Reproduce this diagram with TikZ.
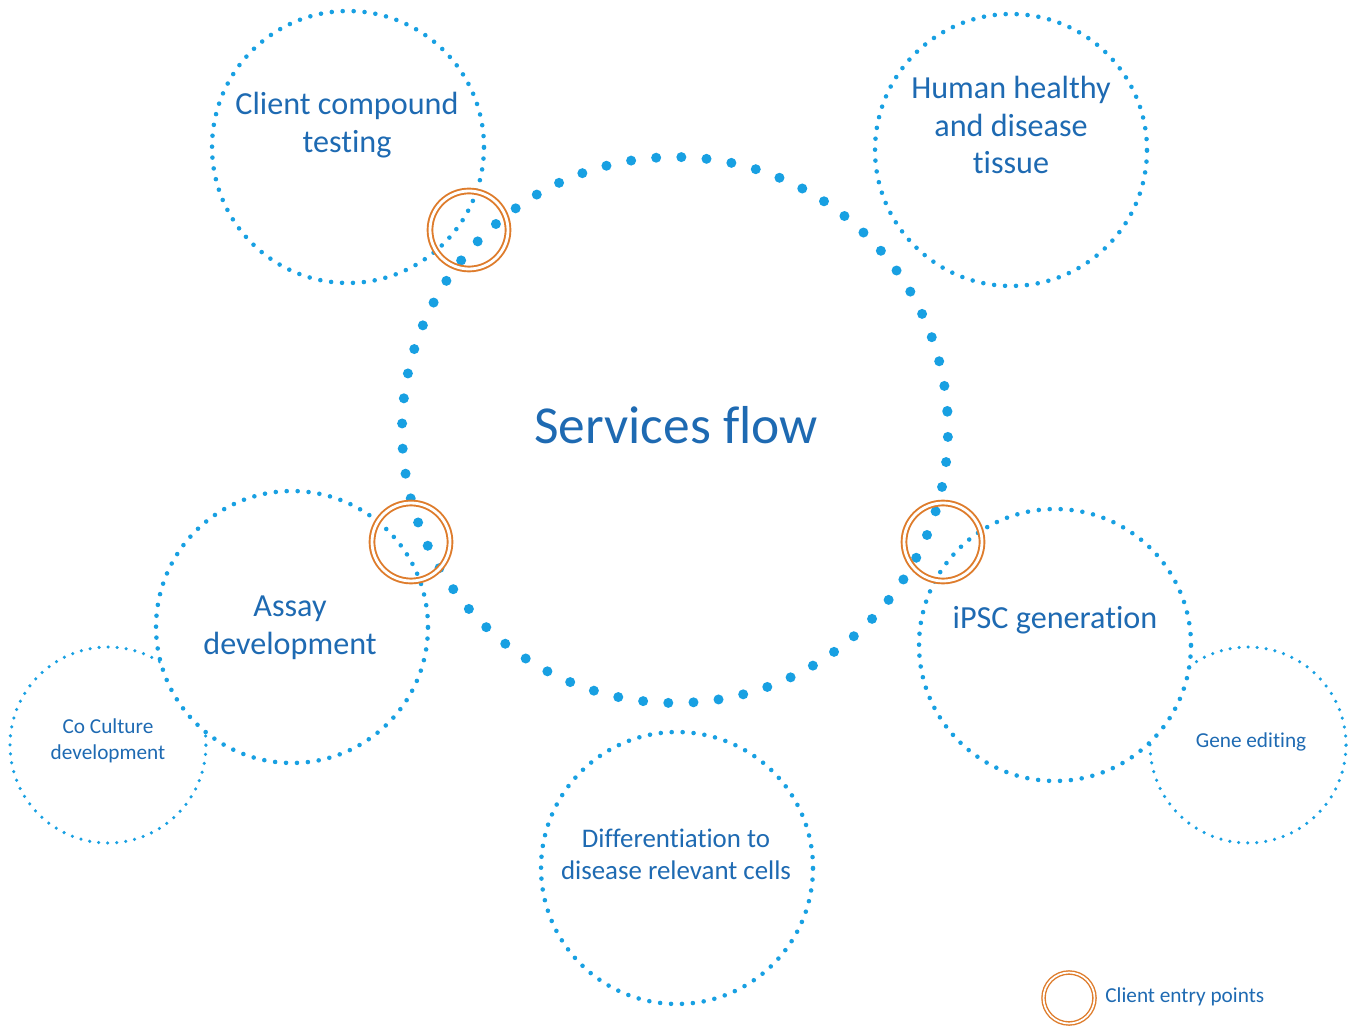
\documentclass[tikz,border=0pt]{standalone}
\usepackage{fontspec}
\setmainfont{Carlito}[Ligatures=NoCommon]
\usepackage{tikz}

\definecolor{dotblue}{RGB}{24,160,226}
\definecolor{textblue}{RGB}{30,106,178}
\definecolor{entryorange}{RGB}{222,124,44}

\begin{document}
\begin{tikzpicture}
        [x=0.02cm, y=-0.02cm,
        bigring/.style={circle, draw=dotblue, inner sep=0pt, line width=5.7pt,
           line cap=round, dash pattern=on 0pt off 14.35pt, minimum size=10.92cm},
        midring/.style={circle, draw=dotblue, inner sep=0pt, line width=2.6pt,
           line cap=round, dash pattern=on 0pt off 6.23pt, minimum size=5.44cm},
        smallring/.style={circle, draw=dotblue, inner sep=0pt, line width=2pt,
           line cap=round, dash pattern=on 0pt off 5.15pt, minimum size=3.92cm},
        entry/.style={circle, draw=entryorange, double=white, double distance=1.6pt,
           line width=1.1pt, inner sep=0pt, minimum size=1.56cm},
        lbl/.style={text=textblue, align=center, inner sep=0pt}]
        \useasboundingbox (0,0) rectangle (1351,1026);
        % outer satellite rings
        \node (coring) at (108, 745) [smallring] {};
        \node (genering) at (1248, 745) [smallring] {};
        % service rings
        \node (assayring) at (292, 627) [midring, fill=white] {};
        \node (ipscring) at (1055, 645) [midring, fill=white] {};
        \node (diffring) at (677, 868) [midring] {};
        \node (tissuering) at (1011, 150) [midring] {};
        \node (flow) at (675, 430) [bigring, rotate=4] {};
        \node (clientring) at (348, 147) [midring] {};
        % entry points
        \node (entryclient) at (469, 230) [entry] {};
        \node (entryassay) at (411, 542) [entry] {};
        \node (entryipsc) at (943, 542) [entry] {};
        % labels
        \node (flowtxt) at (676, 425) [lbl, font=\fontsize{30.4}{36}\selectfont] {Services flow};
        \node (clienttxt) at (347, 125) [lbl, font=\fontsize{18.3}{21.6}\selectfont] {Client compound\\testing};
        \node (tissuetxt) at (1011, 125) [lbl, font=\fontsize{18.3}{21.6}\selectfont] {Human healthy\\and disease\\tissue};
        \node (assaytxt) at (290, 628) [lbl, font=\fontsize{18.3}{21.6}\selectfont] {Assay\\development};
        \node (ipsctxt) at (1055, 620) [lbl, font=\fontsize{18.3}{21.6}\selectfont] {iPSC generation};
        \node (difftxt) at (676, 854) [lbl, font=\fontsize{15.3}{18.2}\selectfont] {Differentiation to\\disease relevant cells};
        \node (cotxt) at (108, 741) [lbl, font=\fontsize{12.1}{14.8}\selectfont] {Co Culture\\development};
        \node (genetxt) at (1251, 742) [lbl, font=\fontsize{12.1}{14.8}\selectfont] {Gene editing};
        % legend
        \node (legring) at (1069, 998) [circle, draw=entryorange, double=white,
           double distance=1pt, line width=0.8pt, inner sep=0pt, minimum size=1.02cm] {};
        \node (legtxt) [lbl, anchor=west, font=\fontsize{12.1}{14.8}\selectfont]
           at (1105, 997) {Client entry points};
     \end{tikzpicture}
\end{document}
